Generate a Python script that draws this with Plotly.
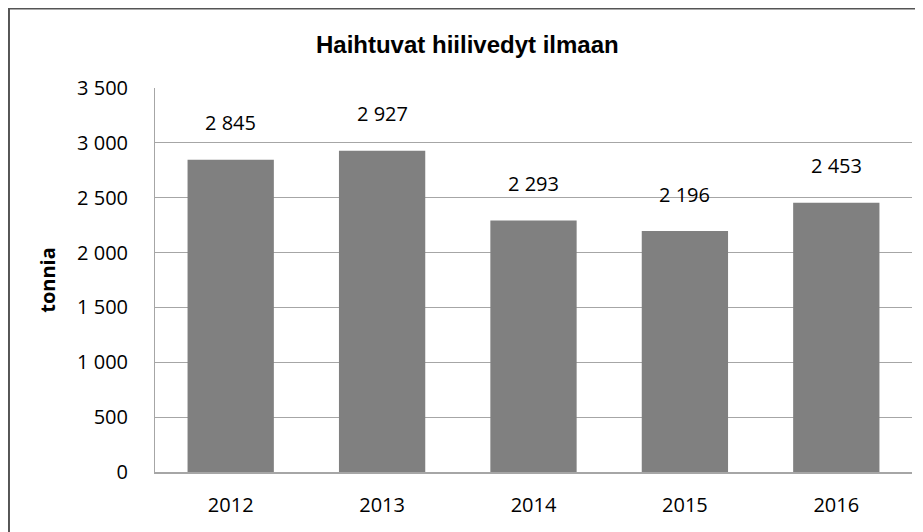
import plotly.graph_objects as go

years = ["2012", "2013", "2014", "2015", "2016"]
tonnia = [2845, 2927, 2293, 2196, 2453]
y_ticks = [0, 500, 1000, 1500, 2000, 2500, 3000, 3500]

FONT = "Open Sans, Lato, sans-serif"

fig = go.Figure()
fig.add_trace(go.Bar(
	x=years,
	y=tonnia,
	marker=dict(color="#808080", line=dict(width=0)),
	width=0.57,
	hoverinfo="x+y"
))

# value labels above the bars (x given as category index)
for i, v in enumerate(tonnia):
	fig.add_annotation(
		x=i, y=v,
		text=f"{v:,}".replace(",", " "),
		showarrow=False,
		yshift=37,
		font=dict(family=FONT, size=20, color="#000000")
	)

# outer frame
fig.add_shape(type="rect", xref="paper", yref="paper",
	x0=-0.1929, x1=1.0092, y0=-0.35, y1=1.207,
	line=dict(color="#555555", width=2), fillcolor="rgba(0,0,0,0)")

fig.update_layout(
	width=915, height=524,
	margin=dict(l=147, r=11, t=80, b=60),
	paper_bgcolor="white",
	plot_bgcolor="white",
	separators=", ",
	showlegend=False,
	title=dict(
		text="<b>Haihtuvat hiilivedyt ilmaan</b>",
		x=0.502, xref="container", xanchor="center",
		y=0.931, yref="container", yanchor="middle",
		font=dict(family="Liberation Sans, Arial, sans-serif", size=24, color="#000000")
	),
	xaxis=dict(
		type="category",
		range=[-0.5, 4.5],
		showgrid=False,
		showline=True, linecolor="#a6a6a6", linewidth=1.5,
		ticks="", tickfont=dict(family=FONT, size=20, color="#000000"),
		ticklabelstandoff=14
	),
	yaxis=dict(
		range=[0, 3500],
		tickvals=y_ticks,
		tickformat=",d",
		showgrid=True, gridcolor="#a6a6a6", gridwidth=1,
		showline=True, linecolor="#a6a6a6", linewidth=1,
		zeroline=False,
		ticks="", tickfont=dict(family=FONT, size=20, color="#000000"),
		ticklabelstandoff=22,
		title=dict(text="<b>tonnia</b>", standoff=16,
			font=dict(family=FONT, size=20, color="#000000"))
	)
)

fig.write_html("out.html")
